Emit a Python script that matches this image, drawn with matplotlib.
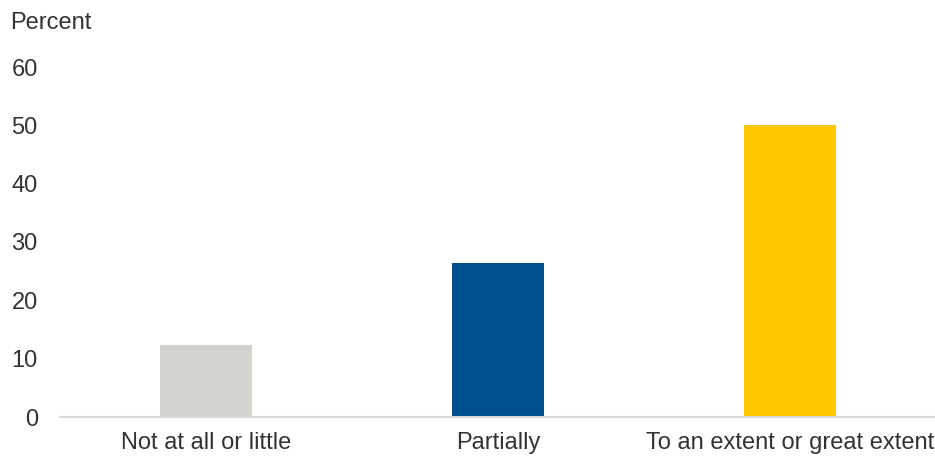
import matplotlib.pyplot as plt

categories = ['Not at all or little', 'Partially', 'To an extent or great extent']
values = [12.3, 26.4, 50.0]
colors = ['#D4D4CF', '#00508F', '#FDC900']
yticks = [0, 10, 20, 30, 40, 50, 60]

plt.rcParams['font.family'] = ['Liberation Sans', 'DejaVu Sans']

fig = plt.figure(figsize=(9.35, 4.57), dpi=100)
ax = fig.add_axes([60 / 935, 40 / 457, 876 / 935, 350 / 457])

ax.bar(range(len(categories)), values, width=0.315, color=colors)

ax.set_xlim(-0.5, len(categories) - 0.5)
ax.set_ylim(0, 60)
ax.set_yticks(yticks)
ax.set_xticks(range(len(categories)))
ax.set_xticklabels(categories)

for s in ['top', 'right', 'left']:
    ax.spines[s].set_visible(False)
ax.spines['bottom'].set_color('#D9D9D9')
ax.spines['bottom'].set_linewidth(1.5)

ax.tick_params(axis='y', length=0, pad=16, labelsize=17, labelcolor='#333333')
ax.tick_params(axis='x', length=0, pad=11, labelsize=17, labelcolor='#333333')

fig.text(10 / 935, 1 - 23 / 457, 'Percent', fontsize=17, color='#333333', va='center', ha='left')

fig.savefig('out.png', dpi=100)
